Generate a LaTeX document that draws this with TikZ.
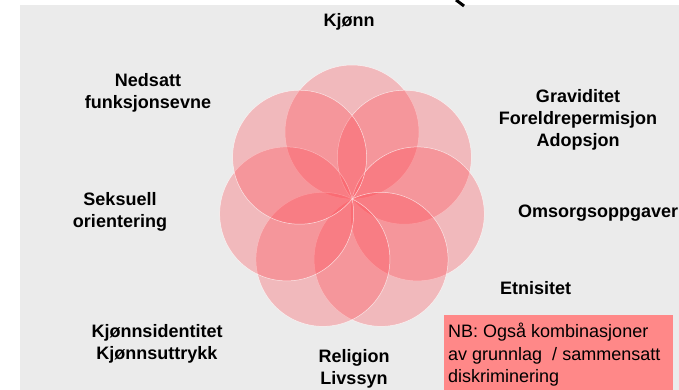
\documentclass[tikz,border=0pt]{standalone}
\usepackage{fontspec}
\setmainfont{Liberation Sans}
\usetikzlibrary{calc}
\definecolor{bggray}{RGB}{235,235,235}
\definecolor{petal}{RGB}{255,70,80}
\definecolor{nbbox}{RGB}{255,136,136}
\tikzset{
  petalc/.style={circle, minimum size=134pt, inner sep=0pt, fill=petal, fill opacity=0.3, draw=white, draw opacity=0.7, line width=0.5pt},
  lbl/.style={font=\fontsize{18}{22}\selectfont\bfseries, align=center, inner sep=0pt, text=black},
  nbtext/.style={font=\fontsize{18}{22.5}\selectfont, align=left, inner sep=0pt, text=black}
}
\begin{document}
\begin{tikzpicture}[x=1pt,y=-1pt]
\useasboundingbox (0,0) rectangle (679,390);
\fill[white] (0,0) rectangle (679,390);
\fill[bggray] (20,5) rectangle (679,390);
\coordinate (glyphA) at (456,0);
\coordinate (glyphB) at (464,6);
\draw[line width=3pt] (glyphA) -- (glyphB);
\coordinate (ctr) at (352,199);
\foreach \k in {0,...,6}{
  \node[petalc] (p\k) at ($(ctr)+(-90+\k*51.4286:67)$) {};
}
\node[lbl] (kjonn) at (349,22) {Kjønn};
\node[lbl] (nedsatt) at (148,93) {Nedsatt\\funksjonsevne};
\node[lbl] (grav) at (578,120) {Graviditet\\Foreldrepermisjon\\Adopsjon};
\node[lbl] (seks) at (120,212) {Seksuell\\orientering};
\node[lbl, anchor=west] (omsorg) at (518,213) {Omsorgsoppgaver};
\node[lbl, anchor=west] (etn) at (500,288) {Etnisitet};
\node[lbl] (kid) at (157,344) {Kjønnsidentitet\\Kjønnsuttrykk};
\node[lbl] (rel) at (354,369) {Religion\\Livssyn};
\fill[nbbox] (444,315) rectangle (673,390);
\node[nbtext, anchor=north west] (nb) at (448,323) {NB: Også kombinasjoner\\av grunnlag\ \ / sammensatt\\diskriminering};
\end{tikzpicture}
\end{document}
